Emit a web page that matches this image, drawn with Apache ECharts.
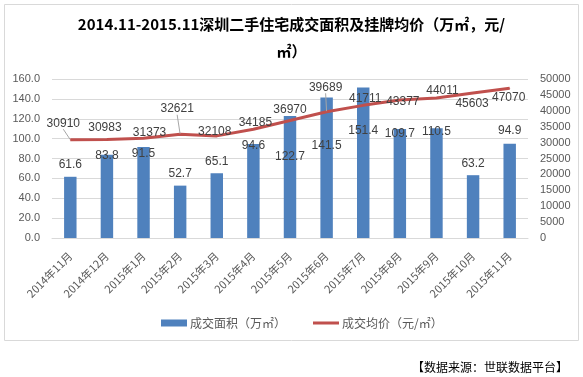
<!DOCTYPE html>
<html><head><meta charset="utf-8">
<script src="https://cdn.jsdelivr.net/npm/echarts@6/dist/echarts.min.js"></script>
<style>html,body{margin:0;padding:0;background:#fff}#c{width:583px;height:377px}</style>
</head><body><div id="c"></div>
<script>
const categories = ["2014年11月","2014年12月","2015年1月","2015年2月","2015年3月","2015年4月","2015年5月","2015年6月","2015年7月","2015年8月","2015年9月","2015年10月","2015年11月"];
const areaValues = [61.6,83.8,91.5,52.7,65.1,94.6,122.7,141.5,151.4,109.7,110.5,63.2,94.9];
const priceValues = [30910,30983,31373,32621,32108,34185,36970,39689,41711,43377,44011,45603,47070];
const leftTicks = {min:0,max:160,interval:20};
const rightTicks = {min:0,max:50000,interval:5000};
// label offsets (presentation only)
const barLabelOffsets = [[0,-6],[0,7],[0,13],[0,-6],[0,-6],[0,8],[0,47],[0,54],[0,49],[0,11],[0,9],[0,-6],[0,-7]];
const lineLabelOffsets = [[-7,-10],[-2,-5],[6,1],[-3,-19],[-2,2],[2,0],[0,-4],[-1,-18],[2,0],[3,8],[6,-1],[-1,17],[-1,16]];
const leaderIdx = [0,3,7];

const FONT = "Liberation Sans, 'Noto Sans CJK SC', sans-serif";
const CJK = "'Noto Sans CJK SC', sans-serif";
const chart = echarts.init(document.getElementById('c'), null, {renderer:'canvas'});
chart.setOption({
  animation:false,
  textStyle:{fontFamily:FONT},
  title:{
    text:"2014.11-2015.11深圳二手住宅成交面积及挂牌均价（万㎡，元/\n㎡）",
    left:'center', top:6,
    textStyle:{fontSize:15,fontWeight:'bold',color:'#000',fontFamily:CJK,lineHeight:27}
  },
  graphic:[
    {type:'rect',left:2,top:2,shape:{width:574,height:336},style:{fill:'none',stroke:'#D9D9D9',lineWidth:1}},
    {type:'text',left:412,top:361,style:{text:'【数据来源：世联数据平台】',fill:'#000',font:"12px 'Noto Sans CJK SC', sans-serif"}}
  ],
  grid:{left:52,right:55,top:79,bottom:139},
  legend:{
    top:312,left:156,itemGap:27,itemWidth:26,itemHeight:7,
    textStyle:{fontSize:12,color:'#595959',fontFamily:CJK,padding:[0,0,0,-2]},
    data:[
      {name:'成交面积（万㎡）',icon:'rect'},
      {name:'成交均价（元/㎡）',icon:'path://M0,0h26v0.01h-26z M0,2h26v3h-26z M0,7h26v-0.01h-26z'}
    ]
  },
  xAxis:{
    type:'category',data:categories,
    axisLine:{lineStyle:{color:'#D9D9D9'}},axisTick:{show:false},
    axisLabel:{rotate:45,fontSize:11,color:'#595959',interval:0,margin:16,fontFamily:CJK}
  },
  yAxis:[
    {type:'value',min:leftTicks.min,max:leftTicks.max,interval:leftTicks.interval,
     axisLabel:{fontSize:11,color:'#595959',formatter:v=>v.toFixed(1),margin:12},
     splitLine:{lineStyle:{color:'#D9D9D9'}},axisLine:{show:false},axisTick:{show:false}},
    {type:'value',min:rightTicks.min,max:rightTicks.max,interval:rightTicks.interval,
     axisLabel:{fontSize:11,color:'#595959',margin:12,formatter:v=>String(v)},
     splitLine:{show:false},axisLine:{show:false},axisTick:{show:false}}
  ],
  series:[
    {name:'成交面积（万㎡）',type:'bar',yAxisIndex:0,barWidth:'34%',
     itemStyle:{color:'#4F81BD'},
     data:areaValues,
     label:{show:true,position:'top',distance:0,formatter:p=>p.value.toFixed(1),fontSize:12,color:'#404040'},
     labelLayout:p=>({dx:barLabelOffsets[p.dataIndex][0],dy:barLabelOffsets[p.dataIndex][1],hideOverlap:false})
    },
    {name:'成交均价（元/㎡）',type:'line',yAxisIndex:1,symbol:'circle',symbolSize:1,showSymbol:true,
     lineStyle:{color:'#C0504D',width:3},itemStyle:{color:'#C0504D'},
     data:priceValues.map((v,i)=>leaderIdx.includes(i)?{value:v,labelLine:{show:true}}:v),
     label:{show:true,position:'top',distance:0,fontSize:12,color:'#404040'},
     labelLine:{show:false,lineStyle:{color:'#A6A6A6',width:1}},
     labelLayout:p=>({dx:lineLabelOffsets[p.dataIndex][0],dy:lineLabelOffsets[p.dataIndex][1],hideOverlap:false}),
     z:5
    }
  ]
});
</script></body></html>
